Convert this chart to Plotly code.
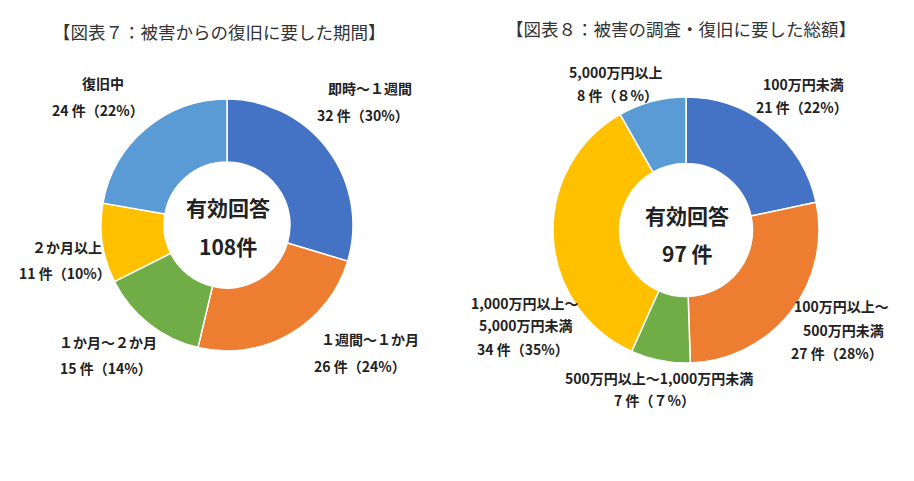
import plotly.graph_objects as go

# 図表7: 被害からの復旧に要した期間
period_labels = ["即時～１週間", "１週間～１か月", "１か月～２か月", "２か月以上", "復旧中"]
period_counts = [32, 26, 15, 11, 24]
period_pcts = ["30%", "24%", "14%", "10%", "22%"]

# 図表8: 被害の調査・復旧に要した総額
cost_labels = ["100万円未満", "100万円以上～<br>500万円未満", "500万円以上～1,000万円未満",
               "1,000万円以上～<br>5,000万円未満", "5,000万円以上"]
cost_counts = [21, 27, 7, 34, 8]
cost_pcts = ["22%", "28%", "７%", "35%", "８%"]

colors = ["#4472C4", "#ED7D31", "#70AD47", "#FFC000", "#5B9BD5"]

W, H = 914, 481
FONT = "Noto Sans CJK JP"


def px(x):
    return x / W


def py(y):
    return 1 - y / H


def domain(cx, cy, r):
    return dict(x=[px(cx - r), px(cx + r)], y=[py(cy + r), py(cy - r)])


fig = go.Figure()
fig.add_trace(go.Pie(labels=period_labels, values=period_counts, hole=0.5, sort=False,
                     direction="clockwise", rotation=0, textinfo="none",
                     marker=dict(colors=colors, line=dict(color="white", width=1.5)),
                     domain=domain(227, 225, 126), showlegend=False))
fig.add_trace(go.Pie(labels=cost_labels, values=cost_counts, hole=0.5, sort=False,
                     direction="clockwise", rotation=0, textinfo="none",
                     marker=dict(colors=colors, line=dict(color="white", width=1.5)),
                     domain=domain(686, 230, 133), showlegend=False))

ann = []


def add_text(x, y, text, size=14, bold=True, color="#222"):
    if bold:
        text = "<b>" + text + "</b>"
    ann.append(dict(x=px(x), y=py(y), xref="paper", yref="paper", text=text,
                    showarrow=False, xanchor="center", yanchor="middle",
                    font=dict(family=FONT, size=size, color=color)))


# titles
add_text(219, 31, "【図表７：被害からの復旧に要した期間】", size=17.5, bold=False, color="#333")
add_text(681, 28, "【図表８：被害の調査・復旧に要した総額】", size=17.5, bold=False, color="#333")

# centre texts
add_text(228, 207, "有効回答", size=21)
add_text(228, 246, f"{sum(period_counts)}件", size=21)
add_text(687, 215, "有効回答", size=21)
add_text(687, 253, f"{sum(cost_counts)} 件", size=21)

# left chart labels: (name line x,y), (count line x,y)
left_pos = [((370, 88), (363, 115)),
            ((370, 339), (360, 366)),
            ((108, 342), (106, 368)),
            ((67, 247), (65, 273)),
            ((103, 83), (98, 110))]
for name, n, p, (a, b) in zip(period_labels, period_counts, period_pcts, left_pos):
    add_text(a[0], a[1], name)
    add_text(b[0], b[1], f"{n} 件（{p}）")

# right chart labels: list of line positions (name lines then count line)
right_pos = [[(803, 84), (802, 107)],
             [(841, 306), (843, 330), (837, 353)],
             [(659, 378), (654, 400)],
             [(525, 303), (526, 325), (523, 349)],
             [(616, 72), (617, 95)]]
for name, n, p, pos in zip(cost_labels, cost_counts, cost_pcts, right_pos):
    lines = name.split("<br>") + [f"{n} 件（{p}）"]
    for line, (x, y) in zip(lines, pos):
        add_text(x, y, line)

fig.update_layout(width=W, height=H, margin=dict(l=0, r=0, t=0, b=0),
                  paper_bgcolor="white", plot_bgcolor="white",
                  font=dict(family=FONT), annotations=ann)

fig.write_html("out.html", config={"displayModeBar": False},
               post_script="document.body.style.margin='0';")
